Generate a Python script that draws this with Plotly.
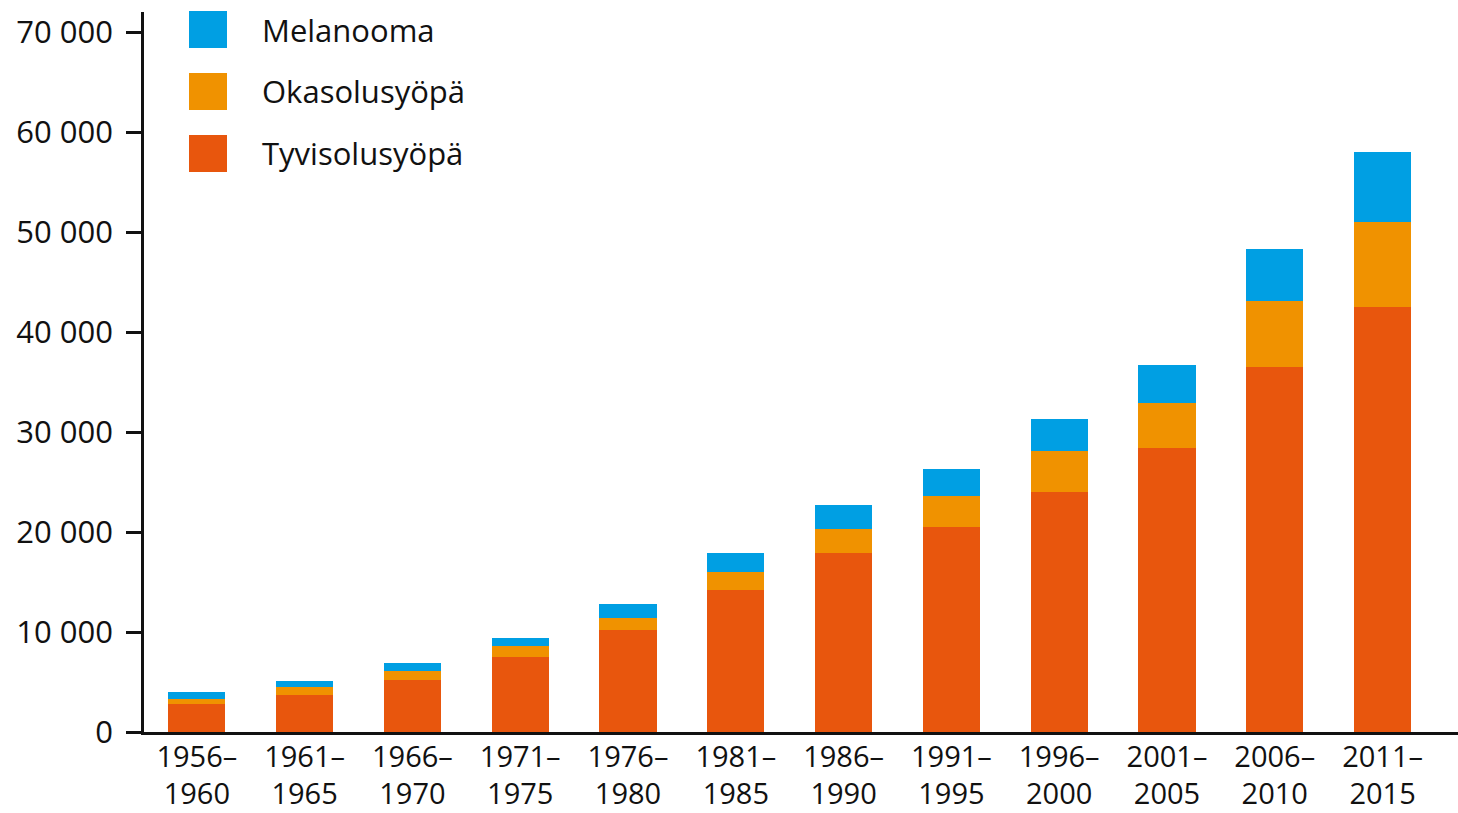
import plotly.graph_objects as go

periods = ["1956–<br>1960", "1961–<br>1965", "1966–<br>1970", "1971–<br>1975", "1976–<br>1980",
           "1981–<br>1985", "1986–<br>1990", "1991–<br>1995", "1996–<br>2000", "2001–<br>2005",
           "2006–<br>2010", "2011–<br>2015"]
tyvisolusyopa = [2800, 3670, 5200, 7470, 10170, 14170, 17870, 20500, 24030, 28430, 36530, 42470]
okasolusyopa = [530, 800, 900, 1160, 1260, 1800, 2460, 3100, 4070, 4500, 6600, 8530]
melanooma = [640, 630, 770, 800, 1370, 1900, 2340, 2700, 3200, 3740, 5170, 6970]

names = ["Tyvisolusyöpä", "Okasolusyöpä", "Melanooma"]
colors = ["#E8560D", "#F09200", "#009FE3"]
series = [tyvisolusyopa, okasolusyopa, melanooma]

FONT = "Open Sans"
FS = 31
fig = go.Figure()
x = list(range(len(periods)))
for name, col, vals in zip(names, colors, series):
    fig.add_trace(go.Bar(x=x, y=vals, name=name, marker=dict(color=col, line=dict(width=0)),
                         width=0.53, showlegend=False))

fig.update_layout(
    barmode="stack",
    width=1458, height=813,
    margin=dict(l=144, r=0, t=12, b=81, autoexpand=False),
    plot_bgcolor="white", paper_bgcolor="white",
    separators=". ",
    font=dict(family=FONT, size=FS, color="#111111"),
    xaxis=dict(range=[-0.49, 11.7], tickmode="array", tickvals=x, ticktext=periods,
               showline=True, linecolor="#111111", linewidth=2.5, ticks="", showgrid=False,
               zeroline=False, tickfont=dict(size=29), ticklabelstandoff=-3, automargin=False),
    yaxis=dict(range=[0, 72000], tickmode="array", tickvals=list(range(0, 70001, 10000)),
               tickformat=",d", showline=True, linecolor="#111111", linewidth=2.5,
               ticks="outside", ticklen=15, tickwidth=2.5, tickcolor="#111111",
               showgrid=False, zeroline=False, ticklabelstandoff=7, tickfont=dict(size=FS),
               automargin=False),
)

# legend drawn manually (top to bottom: Melanooma, Okasolusyöpä, Tyvisolusyöpä)
leg = list(zip(names, colors))[::-1]
for i, (name, col) in enumerate(leg):
    y0 = 11 + i * 62
    fig.add_shape(type="rect", xref="paper", yref="paper",
                  x0=(189 - 144) / 1314, x1=(227 - 144) / 1314,
                  y0=1 - (y0 + 37 - 12) / 720, y1=1 - (y0 - 12) / 720,
                  fillcolor=col, line=dict(width=0))
    fig.add_annotation(xref="paper", yref="paper", x=(260 - 144) / 1314,
                       y=1 - (y0 + 18.5 - 12) / 720, text=name, showarrow=False,
                       xanchor="left", yanchor="middle", font=dict(size=FS, family=FONT))

fig.write_html("out.html", config={"displayModeBar": False},
               post_script="document.body.style.margin='0';document.body.style.overflow='hidden';")
